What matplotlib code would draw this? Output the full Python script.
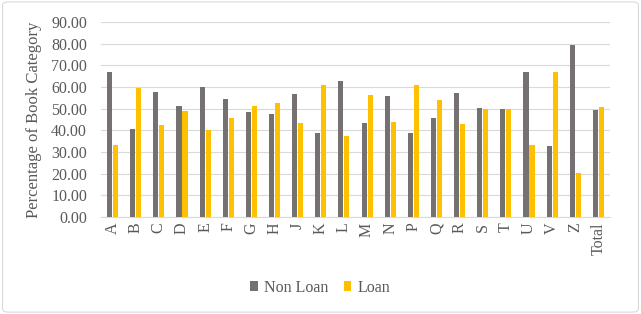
import numpy as np
import matplotlib
matplotlib.use("Agg")
import matplotlib.pyplot as plt
from matplotlib.patches import FancyBboxPatch

categories = ["A", "B", "C", "D", "E", "F", "G", "H", "J", "K", "L", "M",
              "N", "P", "Q", "R", "S", "T", "U", "V", "Z", "Total"]
non_loan = [66.7, 40.5, 57.5, 51.3, 60.0, 54.3, 48.6, 47.6, 56.8, 39.0, 62.6,
            43.5, 56.0, 38.9, 45.9, 57.0, 50.2, 50.0, 66.7, 32.9, 79.5, 49.2]
loan = [33.3, 59.5, 42.5, 48.7, 40.0, 45.7, 51.4, 52.4, 43.2, 61.0, 37.4,
        56.5, 44.0, 61.1, 54.1, 43.0, 49.8, 50.0, 33.3, 67.1, 20.5, 50.8]
yticks = np.arange(0, 91, 10)

plt.rcParams["font.family"] = ["Liberation Serif", "DejaVu Serif"]
text_col = "#595959"

fig = plt.figure(figsize=(6.41, 3.14), dpi=100)
# chart border
fig.patches.append(FancyBboxPatch((0.004, 0.006), 0.992, 0.988,
                                  boxstyle="round,pad=0,rounding_size=0.01",
                                  transform=fig.transFigure, fill=False,
                                  edgecolor="#d9d9d9", linewidth=0.8))

ax = fig.add_axes([101 / 641, 1 - 217 / 314, (610 - 101) / 641, (217 - 22) / 314])

x = np.arange(len(categories))
w = 0.22
ax.bar(x - 0.13, non_loan, width=w, color="#767171", label="Non Loan", zorder=3)
ax.bar(x + 0.13, loan, width=w, color="#FFC000", label="Loan", zorder=3)

ax.set_xlim(-0.5, len(categories) - 0.5)
ax.set_ylim(0, 90)
ax.set_yticks(yticks)
ax.set_yticklabels([f"{v:.2f}" for v in yticks])
ax.set_xticks(x)
ax.set_xticklabels(categories, rotation=90)
ax.tick_params(axis="both", length=0, labelsize=11.5, colors=text_col)
ax.tick_params(axis="y", pad=10)
ax.tick_params(axis="x", pad=4)
ax.grid(axis="y", color="#d9d9d9", linewidth=0.8, zorder=0)
for s in ["top", "right", "left"]:
    ax.spines[s].set_visible(False)
ax.spines["bottom"].set_color("#d9d9d9")

ax.set_ylabel("Percentage of Book Category", fontsize=12, color=text_col, labelpad=7)

fig.legend(loc="center", bbox_to_anchor=(0.5, 1 - 288 / 314), ncol=2, frameon=False,
           fontsize=11.5, handlelength=0.45, handleheight=0.6, handletextpad=0.4,
           columnspacing=1.0, labelcolor=text_col)

fig.savefig("out.png", dpi=100)
